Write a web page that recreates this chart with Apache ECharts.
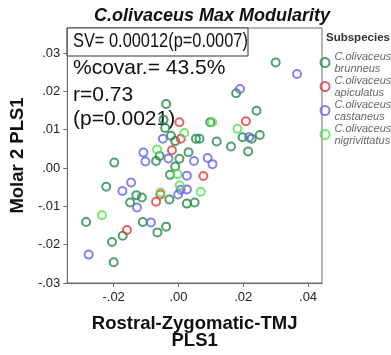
<!DOCTYPE html>
<html>
<head>
<meta charset="utf-8">
<script src="https://cdn.jsdelivr.net/npm/echarts@6/dist/echarts.min.js"></script>
<style>
  html, body { margin: 0; padding: 0; background: #fff; }
  #chart { width: 391px; height: 355px; }
</style>
</head>
<body>
<div id="chart"></div>
<script>
// PLS1 scores: [Rostral-Zygomatic-TMJ, Molar 2] per specimen
const brunneus = [
  [0.0300, 0.0275], [0.0178, 0.0195], [0.0241, 0.0149], [0.0098, 0.0119],
  [-0.0038, 0.0167], [-0.0046, 0.0126], [-0.0041, 0.0104], [-0.0023, 0.0084],
  [-0.0010, 0.0070], [0.0054, 0.0076], [0.0065, 0.0076], [0.0118, 0.0069],
  [0.0162, 0.0056], [0.0198, 0.0080], [0.0226, 0.0076], [0.0251, 0.0086],
  [0.0215, 0.0043], [0.0031, 0.0041], [-0.0058, 0.0031], [-0.0069, 0.0018],
  [0.0003, 0.0024], [-0.0010, 0.0004], [-0.0198, 0.0014], [-0.0026, -0.0018],
  [-0.0223, -0.0049], [-0.0130, -0.0071], [-0.0113, -0.0077], [-0.0028, -0.0082],
  [-0.0149, -0.0090], [0.0026, -0.0093], [0.0050, -0.0090], [-0.0285, -0.0141],
  [-0.0110, -0.0141], [-0.0038, -0.0153], [-0.0065, -0.0168], [-0.0172, -0.0177],
  [-0.0205, -0.0193], [-0.0200, -0.0246]
];
const apiculatus = [
  [0.0003, 0.0119], [0.0208, 0.0122], [0.0007, 0.0076], [-0.0020, 0.0046],
  [0.0077, -0.0021], [-0.0056, -0.0069], [-0.0069, -0.0088], [-0.0159, -0.0162]
];
const castaneus = [
  [0.0366, 0.0245], [0.0190, 0.0206], [-0.0048, 0.0076], [0.0218, 0.0080],
  [-0.0108, 0.0040], [-0.0031, 0.0025], [-0.0102, 0.0017], [0.0048, 0.0018],
  [0.0090, 0.0026], [0.0105, 0.0010], [0.0026, -0.0020], [-0.0146, -0.0038],
  [0.0026, -0.0056], [-0.0173, -0.0060], [0.0007, -0.0057], [-0.0001, -0.0069],
  [-0.0128, -0.0103], [-0.0085, -0.0142], [-0.0277, -0.0226]
];
const nigrivittatus = [
  [0.0018, 0.0091], [0.0182, 0.0102], [0.0104, 0.0119], [-0.0066, 0.0048],
  [-0.0003, -0.0016], [0.0004, -0.0045], [0.0069, -0.0062], [-0.0055, -0.0064],
  [-0.0236, -0.0123]
];

const subspecies = ['brunneus', 'apiculatus', 'castaneus', 'nigrivittatus'];
const groups = [brunneus, apiculatus, castaneus, nigrivittatus];
const colors = ['#23884a', '#e23a3a', '#6464e6', '#55e050'];

const xTicks = [-0.02, 0, 0.02, 0.04];
const yTicks = [-0.03, -0.02, -0.01, 0, 0.01, 0.02, 0.03];

const statLines = ['SV= 0.00012(p=0.0007)', '%covar.= 43.5%', 'r=0.73', '(p=0.0021)'];

function tickText(v) {
  let s = v.toFixed(2);
  if (s === '-0.00') s = '0.00';
  return s.replace('0.', '.');
}

const axisColor = '#6a6a6a';
const fontFamily = 'Liberation Sans, Arial, sans-serif';
const labelFont = { fontFamily: fontFamily, fontSize: 13, color: '#222' };
const nameFont = { fontFamily: fontFamily, fontSize: 18.5, fontWeight: 'bold', color: '#111' };

const chart = echarts.init(document.getElementById('chart'), null, { renderer: 'canvas' });

const series = subspecies.map((name, i) => ({
  name: name,
  type: 'scatter',
  data: groups[i],
  symbol: 'circle',
  symbolSize: 8,
  itemStyle: { color: 'rgba(0,0,0,0)', borderColor: colors[i], borderWidth: 2 },
  emphasis: { disabled: true }
}));

function statText(i, y, scaleX) {
  return {
    type: 'text', x: 73, y: y, scaleX: scaleX || 1,
    style: { text: statLines[i], fontFamily: fontFamily, fontSize: 21, fill: '#111', verticalAlign: 'middle' }
  };
}

chart.setOption({
  animation: false,
  backgroundColor: '#fff',
  title: {
    text: 'C.olivaceus Max Modularity',
    left: 94, top: 7, padding: 0,
    textStyle: { fontFamily: fontFamily, fontSize: 18, fontWeight: 'bold', fontStyle: 'italic', color: '#111' }
  },
  grid: { left: 67, top: 28, right: 69, bottom: 72, show: true, borderColor: axisColor, borderWidth: 1 },
  xAxis: {
    type: 'value', min: -0.0343, max: 0.0443,
    name: 'Rostral-Zygomatic-TMJ\nPLS1', nameLocation: 'middle', nameGap: 32,
    nameTextStyle: Object.assign({ lineHeight: 17 }, nameFont),
    axisLine: { show: true, onZero: false, lineStyle: { color: axisColor } },
    axisTick: { show: true, length: 4, customValues: xTicks, lineStyle: { color: axisColor } },
    axisLabel: Object.assign({ customValues: xTicks, formatter: tickText, margin: 8 }, labelFont),
    splitLine: { show: false }
  },
  yAxis: {
    type: 'value', min: -0.03, max: 0.0365,
    name: 'Molar 2 PLS1', nameLocation: 'middle', nameGap: 40, nameRotate: 90,
    nameTextStyle: nameFont,
    axisLine: { show: true, onZero: false, lineStyle: { color: axisColor } },
    axisTick: { show: true, length: 4, customValues: yTicks, lineStyle: { color: axisColor } },
    axisLabel: Object.assign({ customValues: yTicks, formatter: tickText, margin: 7 }, labelFont),
    splitLine: { show: false }
  },
  legend: {
    orient: 'vertical', left: 319.5, top: 50.5, padding: 0, itemGap: 0, align: 'left',
    itemWidth: 9, itemHeight: 9,
    data: subspecies.map((name, i) => ({
      name: name, icon: 'circle',
      itemStyle: { color: 'rgba(0,0,0,0)', borderColor: colors[i], borderWidth: 2 }
    })),
    formatter: name => 'C.olivaceus\n' + name,
    textStyle: { fontFamily: fontFamily, fontSize: 11, fontStyle: 'italic', color: '#666', lineHeight: 12 },
    selectedMode: false
  },
  graphic: [
    {
      type: 'text', x: 326, y: 38,
      style: { text: 'Subspecies', fontFamily: fontFamily, fontSize: 11.5, fontWeight: 'bold', fill: '#333', verticalAlign: 'middle' }
    },
    {
      type: 'rect', shape: { x: 67, y: 28, width: 181, height: 28 },
      style: { fill: '#fff', stroke: '#333', lineWidth: 1 }
    },
    statText(0, 41, 0.78),
    statText(1, 68),
    statText(2, 95),
    statText(3, 119)
  ],
  series: series
});
</script>
</body>
</html>
